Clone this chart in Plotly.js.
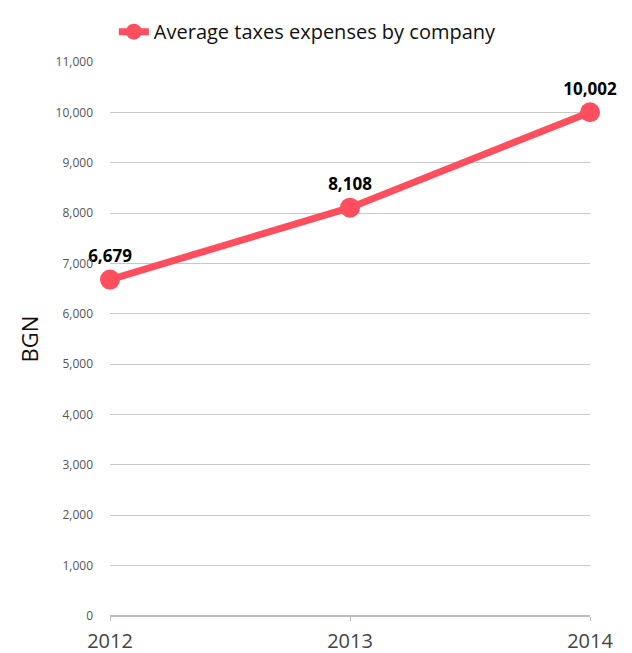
<!DOCTYPE html>
<html>
<head>
<meta charset="utf-8">
<script src="https://cdn.plot.ly/plotly-3.0.1.min.js"></script>
<style>html,body{margin:0;padding:0;background:#fff;}#chart{width:632px;height:653px;}</style>
</head>
<body>
<div id="chart"></div>
<script>
const years = [2012, 2013, 2014];
const avgTaxes = [6679, 8108, 10002];
const seriesName = 'Average taxes expenses by company';
const yTickVals = [0,1000,2000,3000,4000,5000,6000,7000,8000,9000,10000,11000];
const xTickVals = [2012, 2013, 2014];

const red = '#ff4f5e';
const font = 'Open Sans, Lato, sans-serif';

Plotly.newPlot('chart', [{
  x: years,
  y: avgTaxes,
  name: seriesName,
  type: 'scatter',
  mode: 'lines+markers+text',
  line: {color: red, width: 7},
  marker: {color: red, size: 20},
  text: avgTaxes.map(v => v.toLocaleString('en-US')),
  textposition: 'top center',
  textfont: {family: font, size: 17, color: '#000', weight: 'bold'},
  cliponaxis: false,
  showlegend: true,
  hoverinfo: 'skip'
}], {
  width: 632, height: 653,
  margin: {l: 110, r: 42, t: 59, b: 37},
  paper_bgcolor: '#fff', plot_bgcolor: '#fff',
  font: {family: font},
  showlegend: true,
  legend: {x: 0.008, y: 1.09, xanchor: 'left', yanchor: 'top', orientation: 'h',
           font: {family: font, size: 20, color: '#111'}, bgcolor: 'rgba(0,0,0,0)'},
  xaxis: {
    range: [2012, 2014],
    tickvals: xTickVals,
    ticktext: xTickVals.map(String),
    showgrid: false,
    zeroline: false,
    showline: false,
    ticks: 'outside', ticklen: 4, tickcolor: '#bbb',
    ticklabelstandoff: 3,
    tickfont: {family: font, size: 20, color: '#444'}
  },
  yaxis: {
    range: [0, 11000],
    tickvals: yTickVals,
    ticktext: yTickVals.map(v => v.toLocaleString('en-US')),
    showgrid: true, gridcolor: '#c8c8c8', gridwidth: 1,
    zeroline: true, zerolinecolor: '#bbb', zerolinewidth: 2,
    showline: false,
    ticks: '',
    ticklabelstandoff: 16,
    tickfont: {family: font, size: 12, color: '#555'},
    title: {text: 'BGN', font: {family: font, size: 22, color: '#111'}, standoff: 10}
  }
}, {displayModeBar: false});
</script>
</body>
</html>
